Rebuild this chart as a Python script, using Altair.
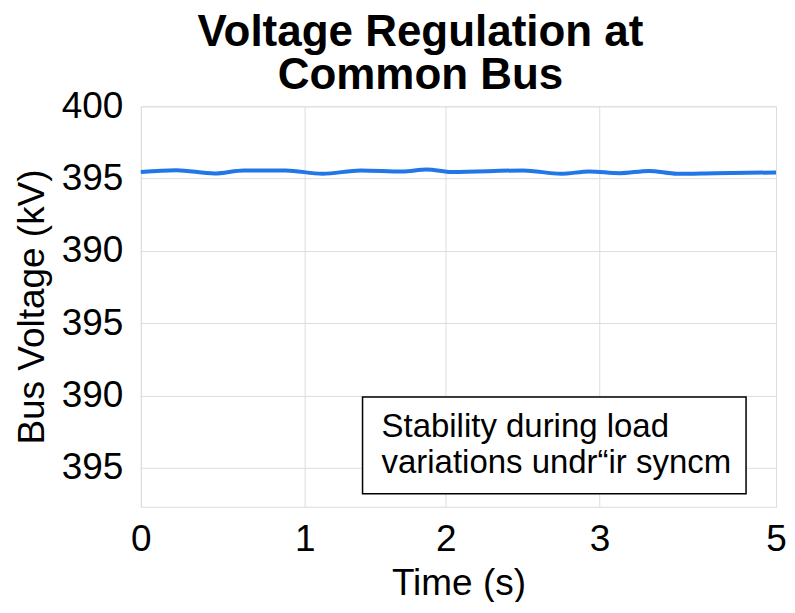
import altair as alt
import pandas as pd

# Line data (time in s, bus voltage in kV)
times = [0.0, 0.28, 0.58, 0.81, 1.14, 1.43, 1.73, 2.06, 2.25, 2.45, 3.01, 3.31, 3.53, 3.77, 4.00, 4.22, 4.52, 5.0]
volts = [395.46, 395.58, 395.35, 395.56, 395.56, 395.33, 395.56, 395.49, 395.63, 395.46, 395.56, 395.33, 395.49, 395.37, 395.53, 395.33, 395.37, 395.42]

# Axis ticks as shown in the figure
x_tick_values = [0, 1.29, 2.40, 3.61, 5]
x_tick_labels = ["0", "1", "2", "3", "5"]
y_tick_values = [400, 395, 390, 385, 380, 375]
y_tick_labels = ["400", "395", "390", "395", "390", "395"]

title_lines = ["Voltage Regulation at", "Common Bus"]
note_lines = ["Stability during load", "variations undr\u201cir syncm"]

FONT = "Liberation Sans"
W, H = 636, 401

df = pd.DataFrame({"t": times, "v": volts})
note = pd.DataFrame({"k": [0]})

def lab_expr(vals, labs):
    return "[" + ",".join(f"'{l}'" for l in labs) + "][indexof([" + ",".join(str(v) for v in vals) + "], datum.value)]"

xscale = alt.Scale(domain=[0, 5], nice=False, zero=False)
yscale = alt.Scale(domain=[372.3, 400], nice=False, zero=False)

xaxis = alt.Axis(values=x_tick_values, labelExpr=lab_expr(x_tick_values, x_tick_labels),
                 title="Time (s)", labelFontSize=37, titleFontSize=37, labelFont=FONT, titleFont=FONT,
                 labelColor="black", titleColor="black", titleFontWeight="normal",
                 tickSize=0, labelPadding=15, titlePadding=8, domain=False,
                 grid=True, gridColor="#dddddd", labelFlush=False)
yaxis = alt.Axis(values=y_tick_values, labelExpr=lab_expr(y_tick_values, y_tick_labels),
                 title="Bus Voltage (kV)", labelFontSize=37, titleFontSize=37, labelFont=FONT, titleFont=FONT,
                 labelColor="black", titleColor="black", titleFontWeight="normal",
                 tickSize=0, labelPadding=18, titlePadding=10, domain=False,
                 grid=True, gridColor="#dddddd")

line = alt.Chart(df).mark_line(color="#2176e8", strokeWidth=4, interpolate="monotone").encode(
    x=alt.X("t:Q", scale=xscale, axis=xaxis),
    y=alt.Y("v:Q", scale=yscale, axis=yaxis),
)

box = alt.Chart(note).mark_rect(fill="white", stroke="black", strokeWidth=1.5).encode(
    x=alt.value(222), x2=alt.value(606), y=alt.value(291), y2=alt.value(388))
txt = alt.Chart(note).mark_text(align="left", baseline="alphabetic", fontSize=33, font=FONT,
                                 lineHeight=36, color="black").encode(
    x=alt.value(241), y=alt.value(331), text=alt.value(note_lines))

chart = alt.layer(line, box, txt).properties(
    width=W, height=H,
    padding={"left": 5, "top": 3, "right": 0, "bottom": 0},
    title=alt.TitleParams(title_lines, fontSize=44, fontWeight="bold", font=FONT, color="black",
                          anchor="middle", dx=-38, lineHeight=43, offset=-11),
).configure_view(stroke="#333", strokeWidth=1.5).configure(background="white")

chart.save("out.html", embed_options={"renderer": "svg", "actions": False})
